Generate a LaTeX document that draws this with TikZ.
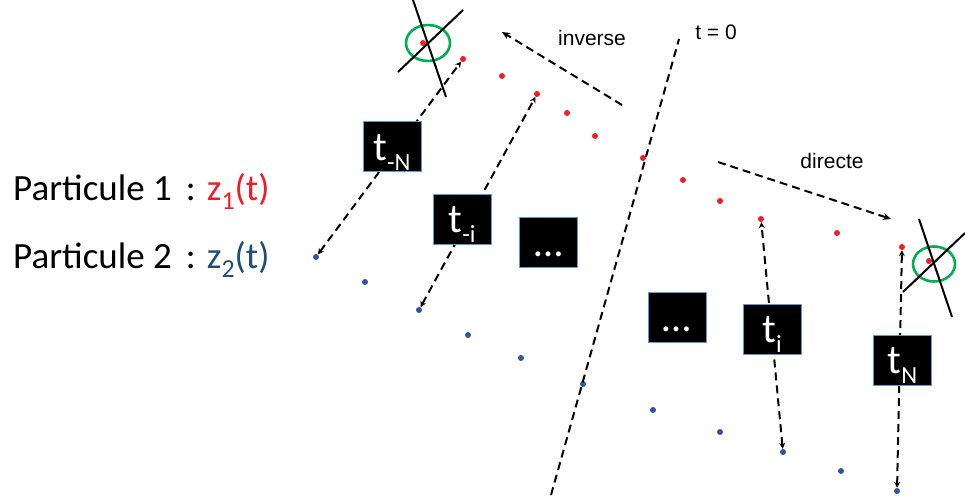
\documentclass[tikz,border=0pt]{standalone}
\usepackage{fontspec}
\usepackage{graphicx}
\setmainfont{Carlito}
\newfontfamily\arialf{Liberation Sans}
\usetikzlibrary{arrows.meta}
\definecolor{pred}{RGB}{237,30,36}
\definecolor{pblue}{RGB}{47,84,160}
\definecolor{zblue}{RGB}{31,78,121}
\definecolor{pgreen}{RGB}{0,176,80}
\definecolor{bborder}{RGB}{91,155,213}
\newcommand\sbs[1]{\raisebox{-0.24em}{\scalebox{0.6}{#1}}}
\newcommand\zsbs[1]{\raisebox{-0.22em}{\scalebox{0.7}{#1}}}
\tikzset{
  rdot/.style={circle,fill=pred,inner sep=0pt,minimum size=6pt},
  bdot/.style={circle,fill=pblue,inner sep=0pt,minimum size=6pt},
  dsh/.style={line width=2pt,dash pattern=on 8pt off 5pt},
  dsharrow/.style={dsh,{Stealth[length=6pt,width=6pt]}-{Stealth[length=6pt,width=6pt]}},
  dshone/.style={dsh,-{Stealth[length=8pt,width=7pt]}},
  tbox/.style={fill=black,draw=bborder,line width=1pt,minimum width=58pt,minimum height=50pt,
    inner sep=0pt,text=white,font=\fontsize{41}{41}\selectfont,text height=27pt,text depth=0pt},
  lbl/.style={font=\arialf\fontsize{21}{21}\selectfont,anchor=base,inner sep=0pt},
  ptxt/.style={font=\fontsize{37}{37}\selectfont,anchor=base west,inner sep=0pt},
  cross/.style={line width=2pt,black},
  ring/.style={draw=pgreen,line width=2.6pt}
}
\begin{document}
\begin{tikzpicture}[x=1pt,y=1pt]
\useasboundingbox (0,0) rectangle (965,-502);
% red dots
\node[rdot] (r0) at (423,-43) {};
\node[rdot] (r1) at (463,-59) {};
\node[rdot] (r2) at (502,-76) {};
\node[rdot] (r3) at (537,-94) {};
\node[rdot] (r4) at (567,-113) {};
\node[rdot] (r5) at (595,-136) {};
\node[rdot] (r6) at (643,-158) {};
\node[rdot] (r7) at (683,-180) {};
\node[rdot] (r8) at (720,-201) {};
\node[rdot] (r9) at (761,-219) {};
\node[rdot] (r10) at (837,-233) {};
\node[rdot] (r11) at (902,-247) {};
\node[rdot] (r12) at (929,-261) {};
% blue dots
\node[bdot] (b1) at (316,-257) {};
\node[bdot] (b2) at (365,-282) {};
\node[bdot] (b3) at (419,-310) {};
\node[bdot] (b4) at (468,-335) {};
\node[bdot] (b5) at (521,-358) {};
\node[bdot] (b6) at (583,-384) {};
\node[bdot] (b7) at (653,-410) {};
\node[bdot] (b8) at (720,-432) {};
\node[bdot] (b9) at (783,-452) {};
\node[bdot] (b10) at (841,-471) {};
\node[bdot] (b11) at (897,-491) {};
% crossed-out circles
\draw[ring] (428,-43) ellipse (22 and 18);
\draw[cross] (413,0) -- (446,-97);
\draw[cross] (398,-72) -- (463,-10);
\draw[ring] (934,-264) ellipse (21 and 17.5);
\draw[cross] (919,-219) -- (952,-317);
\draw[cross] (903,-292) -- (965,-233);
% t = 0 line
\coordinate (t0a) at (551,-495);
\coordinate (t0b) at (679,-39);
\draw[dsh] (t0a) -- (t0b);
% inverse / directe arrows
\coordinate (ia) at (622,-105);
\coordinate (ib) at (502,-32);
\draw[dshone] (ia) -- (ib);
\coordinate (da) at (718,-162);
\coordinate (db) at (891,-219);
\draw[dshone] (da) -- (db);
% time links
\draw[dsharrow] (b1) -- (r1);
\draw[dsharrow] (b3) -- (r3);
\draw[dsharrow] (b9) -- (r9);
\draw[dsharrow] (b11) -- (r11);
% boxes
\node[tbox] (tmN) at (392,-147) {t\sbs{-N}};
\node[tbox] (tmi) at (462,-219.5) {t\sbs{-i}};
\node[tbox] (dotsa) at (548.5,-243) {\dots};
\node[tbox] (dotsb) at (677,-317.5) {\dots};
\node[tbox] (ti) at (772,-329) {t\sbs{i}};
\node[tbox] (tN) at (902.5,-360) {t\sbs{N}};
% labels
\node[lbl] (linv) at (592,-46) {inverse};
\node[lbl] (lt0) at (716,-40) {t = 0};
\node[lbl] (ldir) at (832,-169) {directe};
\node[ptxt] (p1) at (13,-201) {Particule 1\hspace{0.38em}:\hspace{0.3em}\textcolor{pred}{z\zsbs{1}(t)}};
\node[ptxt] (p2) at (13,-269) {Particule 2\hspace{0.38em}:\hspace{0.3em}\textcolor{zblue}{z\zsbs{2}(t)}};
\end{tikzpicture}
\end{document}
